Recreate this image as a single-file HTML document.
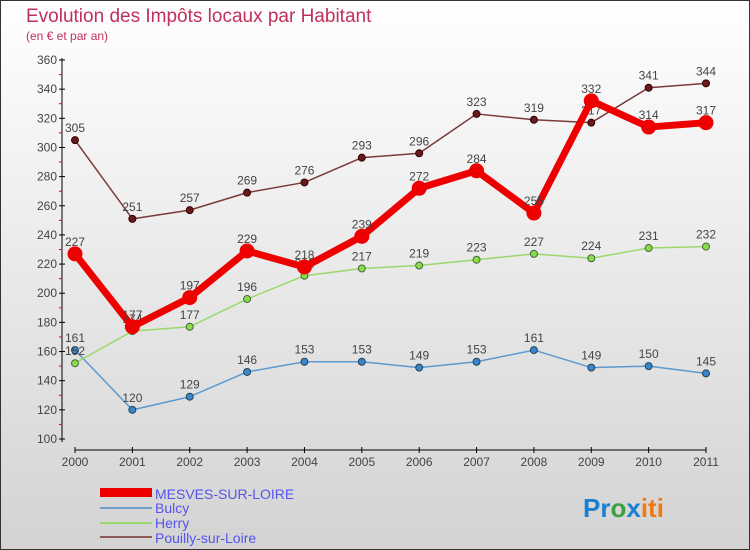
<!DOCTYPE html>
<html><head><meta charset="utf-8"><style>
body{margin:0;width:750px;height:550px;overflow:hidden}
svg{display:block;font-family:"Liberation Sans",sans-serif}
</style></head><body>
<svg width="750" height="550">
<defs><linearGradient id="bg" x1="0" y1="0" x2="0" y2="1"><stop offset="0" stop-color="#ffffff"/><stop offset="1" stop-color="#d3d3d3"/></linearGradient></defs>
<rect x="0.5" y="0.5" width="749" height="549" fill="url(#bg)" stroke="#333"/>
<text x="26" y="22" font-size="19" fill="#c0305a">Evolution des Impôts locaux par Habitant</text>
<text x="26" y="40" font-size="12" fill="#c0305a">(en € et par an)</text>
<g id="axes"></g><g id="series"></g>
<g>
<rect x="100" y="488" width="52" height="9" fill="#e00"/>
<text x="155" y="499" font-size="14" fill="#5555ee">MESVES-SUR-LOIRE</text>
<line x1="100" y1="508" x2="152" y2="508" stroke="#6fa0cc" stroke-width="2"/>
<text x="155" y="513" font-size="14" fill="#5555ee">Bulcy</text>
<line x1="100" y1="523" x2="152" y2="523" stroke="#99d86a" stroke-width="2"/>
<text x="155" y="528" font-size="14" fill="#5555ee">Herry</text>
<line x1="100" y1="537" x2="152" y2="537" stroke="#8a5a5a" stroke-width="2"/>
<text x="155" y="543" font-size="14" fill="#5555ee">Pouilly-sur-Loire</text>
</g>
<text x="583" y="517" font-size="26" font-weight="bold"><tspan fill="#1a7fd0">Pr</tspan><tspan fill="#3aa040">o</tspan><tspan fill="#1a7fd0">x</tspan><tspan fill="#f07a10">iti</tspan></text>
</svg>
<script>
const years=[2000,2001,2002,2003,2004,2005,2006,2007,2008,2009,2010,2011];
const yTicks=[100,120,140,160,180,200,220,240,260,280,300,320,340,360];
const mesves=[227,177,197,229,218,239,272,284,255,332,314,317];
const bulcy=[161,120,129,146,153,153,149,153,161,149,150,145];
const herry=[152,174,177,196,212,217,219,223,227,224,231,232];
const pouilly=[305,251,257,269,276,293,296,323,319,317,341,344];
const NS="http://www.w3.org/2000/svg";
const X=i=>75+i*(706-75)/(years.length-1);
const Y=v=>60+(360-v)*379/260;
function mk(t,a,p){const e=document.createElementNS(NS,t);for(const k in a)e.setAttribute(k,a[k]);p.appendChild(e);return e;}
const ax=document.getElementById('axes');
const yl=mk('line',{x1:62,y1:58,x2:62,y2:442,stroke:'#000'},ax);


const xl=mk('line',{x1:75,y1:450,x2:706,y2:450,stroke:'#000'},ax);


yTicks.forEach(v=>{
 mk('line',{x1:59,x2:65,y1:Y(v),y2:Y(v),stroke:'#000'},ax);
 if(v<360)mk('line',{x1:59,x2:62,y1:Y(v+10),y2:Y(v+10),stroke:'#e00'},ax);
 const t=mk('text',{x:57,y:Y(v)+4,'text-anchor':'end','font-size':12,fill:'#444'},ax);
 t.textContent=v;
 
 
});
years.forEach((y,i)=>{
 mk('line',{x1:X(i),x2:X(i),y1:447,y2:453,stroke:'#000'},ax);
 const t=mk('text',{x:X(i),y:466,'text-anchor':'middle','font-size':12,fill:'#444'},ax);
 t.textContent=y;
 
 
});
const sg=document.getElementById('series');
function series(d,name,col,w,r,dot,stroke){
 const g=mk('g',{},sg);
 
 
 const p=mk('polyline',{points:d.map((v,i)=>X(i)+','+Y(v)).join(' '),fill:'none',stroke:col,'stroke-width':w,'stroke-linejoin':'round'},g);
 
 
 d.forEach((v,i)=>{
  const c=mk('circle',{cx:X(i),cy:Y(v),r:r,fill:dot,stroke:stroke,'stroke-width':1},g);
  
  
  const t=mk('text',{x:X(i),y:Y(v)-8,'text-anchor':'middle','font-size':12,fill:'#444'},g);
  t.textContent=v;
  
  
 });
}
series(bulcy,'bulcy','#5a9ad0',1.5,3.5,'#3a86cc','#245');
series(herry,'herry','#99d86a',1.5,3.5,'#88dd44','#464');
series(pouilly,'pouilly','#7a3a3a',1.5,3.5,'#6a1a1a','#300');
series(mesves,'mesves','#ee0000',7,7,'#ee0000','#e00');
</script>
</body></html>
